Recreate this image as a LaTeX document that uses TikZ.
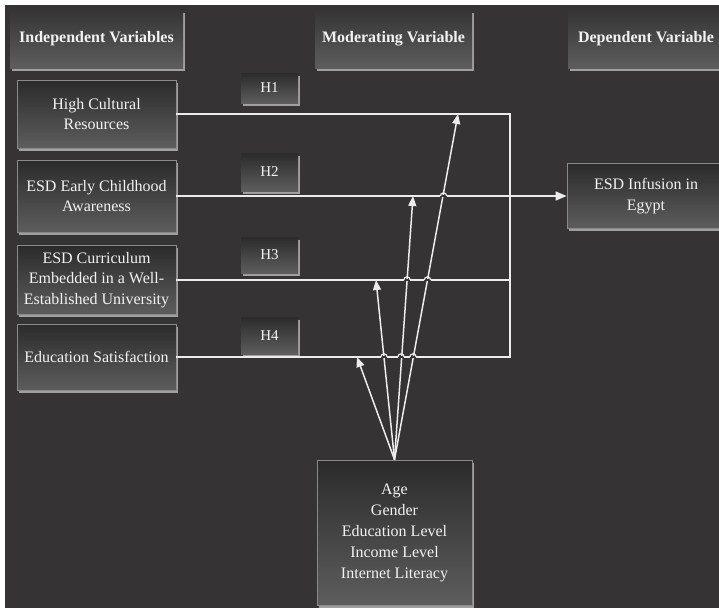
\documentclass[tikz,border=0pt]{standalone}
\usepackage{fontspec}
\setmainfont{Liberation Serif}
\usetikzlibrary{shadows,arrows.meta}
\definecolor{bg}{HTML}{353334}
\definecolor{boxtop}{HTML}{2C2B2C}
\definecolor{boxbot}{HTML}{5E5D5E}
\definecolor{boxline}{HTML}{8A8A8A}
\definecolor{shade}{HTML}{A0A0A0}
\definecolor{txt}{HTML}{F2F2F2}
\definecolor{wire}{HTML}{ECECEC}
\begin{document}
\begin{tikzpicture}[x=1pt,y=-1pt,
  basebox/.style={inner sep=0pt, align=center, text=txt, top color=boxtop, bottom color=boxbot,
    drop shadow={shadow xshift=1.5pt, shadow yshift=-2.5pt, fill=shade, opacity=1},
    font=\fontsize{16}{20.5}\selectfont},
  varbox/.style={basebox, draw=boxline, line width=0.8pt},
  headbox/.style={basebox, draw=none, top color=boxtop!80!boxbot, bottom color=boxbot, font=\bfseries\fontsize{16}{20}\selectfont},
  hbox/.style={basebox, draw=none, minimum width=57pt, font=\fontsize{15}{18}\selectfont},
  wireline/.style={draw=wire, line width=1.5pt},
  modarrow/.style={wireline, -{Triangle[width=8pt,length=10pt]}},
  hop/.style={draw=wire, line width=1.2pt}
]
\useasboundingbox (0,0) rectangle (719,608);
\fill[white] (0,0) rectangle (719,608);
\fill[bg] (5,5) rectangle (719,608);

% headers
\node[headbox, minimum width=173pt, minimum height=58pt] (hiv) at (96.5,39) {Independent Variables};
\node[headbox, minimum width=157pt, minimum height=58pt] (hmv) at (393.5,39) {Moderating Variable};
\node[headbox, minimum width=156pt, minimum height=58pt] (hdv) at (646,39) {Dependent Variable};

% independent variables
\node[varbox, minimum width=159pt, minimum height=68pt] (b1) at (96.5,114) {High Cultural\\Resources};
\node[varbox, minimum width=159pt, minimum height=72pt] (b2) at (96.5,196) {ESD Early Childhood\\Awareness};
\node[varbox, minimum width=159pt, minimum height=69pt] (b3) at (96.5,280) {ESD Curriculum\\Embedded in a Well-\\Established University};
\node[varbox, minimum width=159pt, minimum height=66pt] (b4) at (96.5,357) {Education Satisfaction};

% hypothesis labels
\node[hbox, minimum height=30pt] (h1) at (269.5,88) {H1};
\node[hbox, minimum height=38pt] (h2) at (269.5,172) {H2};
\node[hbox, minimum height=36pt] (h3) at (269.5,255) {H3};
\node[hbox, minimum height=37pt] (h4) at (269.5,335.5) {H4};

% dependent
\node[varbox, minimum width=158pt, minimum height=65pt] (dv) at (646,196) {ESD Infusion in\\Egypt};

% moderator
\node[varbox, minimum width=155pt, minimum height=145pt, font=\fontsize{16}{21}\selectfont] (mod) at (394.5,532.5) {Age\\Gender\\Education Level\\Income Level\\Internet Literacy};

% junction coordinates
\coordinate (c1) at (510,114);
\coordinate (c3) at (510,280);
\coordinate (c4) at (510,357);
\coordinate (t1) at (458,114);
\coordinate (t2) at (413,196);
\coordinate (t3) at (376,280);
\coordinate (t4) at (357,357);

% independent lines
\draw[wireline] (b1.east) -- (c1) -- (c4) -- (b4.east);
\draw[wireline] (b3.east) -- (c3);
\draw[wireline, -{Triangle[width=9pt,length=11pt]}] (b2.east) -- (dv.west);

% moderator arrows
\draw[modarrow] (mod.north) -- (t1);
\draw[modarrow] (mod.north) -- (t2);
\draw[modarrow] (mod.north) -- (t3);
\draw[modarrow] (mod.north) -- (t4);

% line hops
\foreach \x/\y in {443.5/196, 427.5/280, 413/357, 407/280, 401/357, 384/357}{
  \fill[bg] (\x-3.2,\y-0.8) rectangle (\x+3.2,\y+0.8);
  \draw[hop] (\x-3.2,\y) arc[start angle=180, end angle=360, radius=3.2];
}
\end{tikzpicture}
\end{document}
